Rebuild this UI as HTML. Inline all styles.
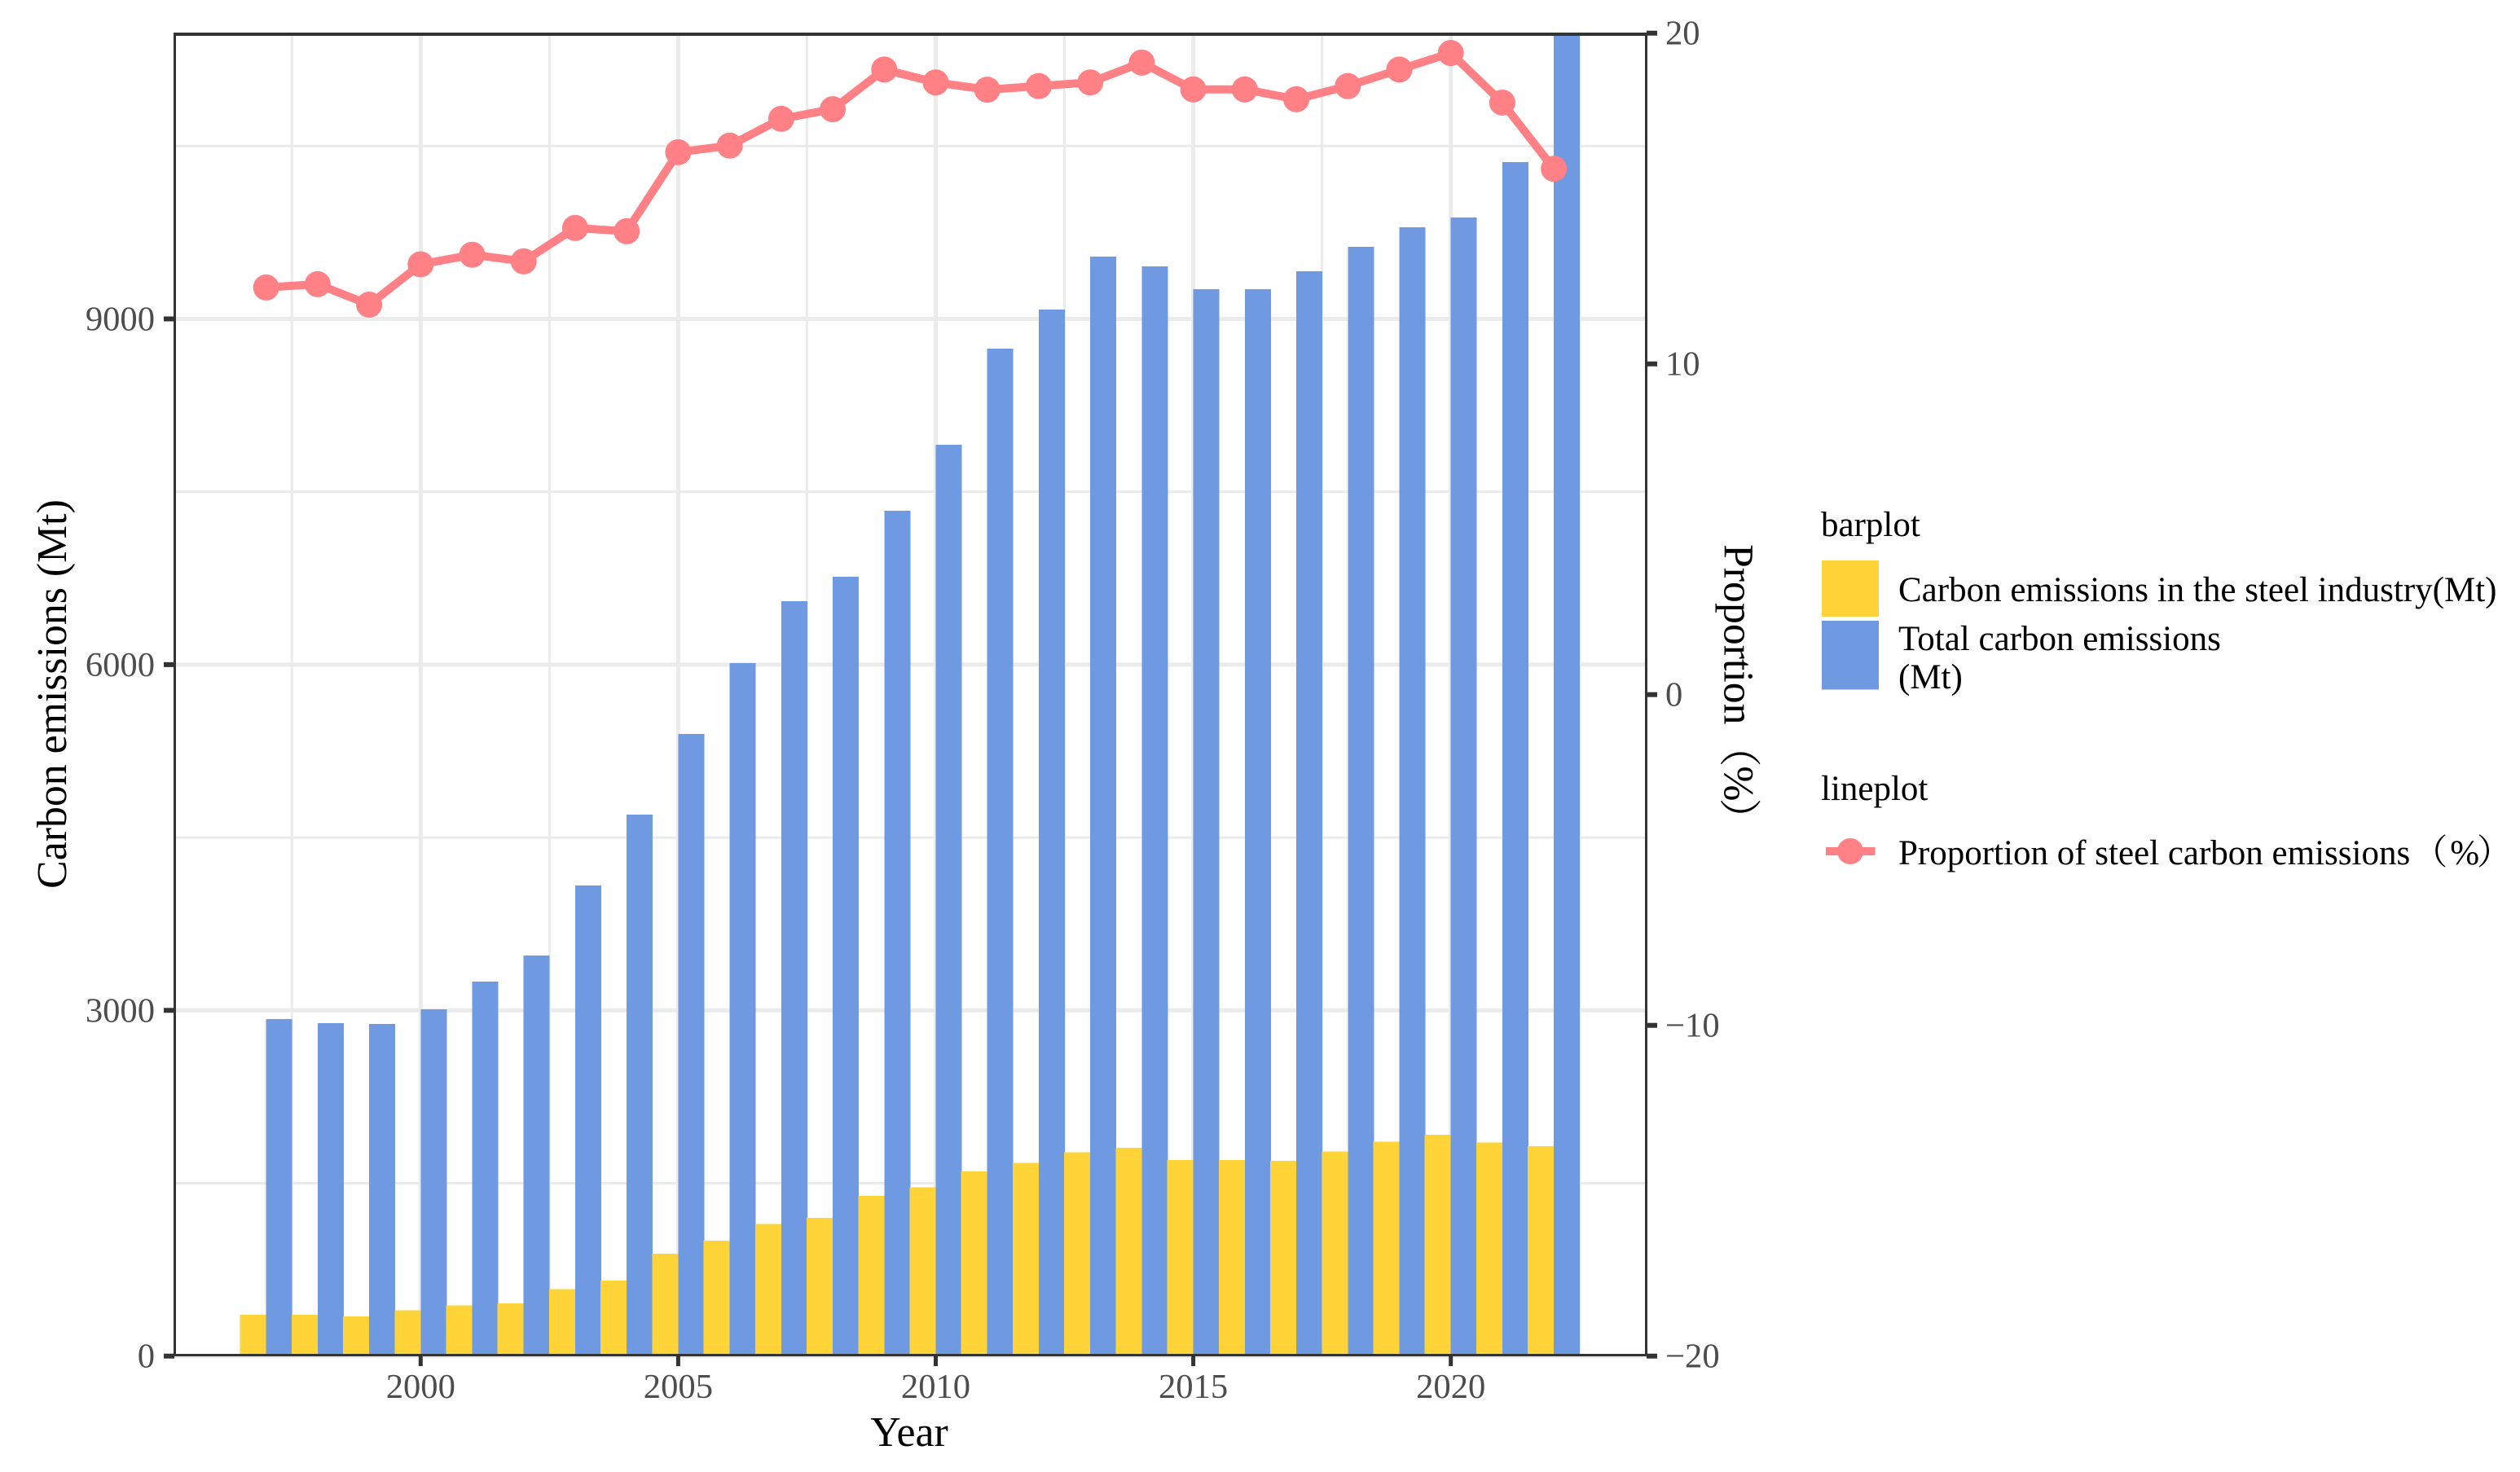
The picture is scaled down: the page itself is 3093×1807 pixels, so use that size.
<!DOCTYPE html>
<html lang="en">
<head>
<meta charset="utf-8">
<title>Carbon emissions chart</title>
<style>
html,body{margin:0;padding:0;background:#fff;}
svg{display:block;}
text{font-family:"Liberation Serif","Noto Serif CJK SC",serif;}
.tick{font-size:42.6px;fill:#4d4d4d;}
.title{font-size:51.8px;fill:#000;}
.legend{font-size:43px;fill:#000;}
</style>
</head>
<body>
<svg id="chart" xmlns="http://www.w3.org/2000/svg" width="3093" height="1807" viewBox="0 0 3093 1807">
  <defs><clipPath id="panel-clip"><rect x="215" y="42" width="1805.5" height="1621.5"/></clipPath></defs>
  <rect x="0" y="0" width="3093" height="1807" fill="#fff"/>
  <g id="grid"></g>
  <g id="bars" clip-path="url(#panel-clip)" shape-rendering="crispEdges"></g>
  <g id="line" clip-path="url(#panel-clip)"></g>
  <g fill="#333" shape-rendering="crispEdges">
    <rect x="213" y="40" width="3" height="1625"/>
    <rect x="2019" y="40" width="3" height="1625"/>
    <rect x="213" y="40" width="1809" height="4"/>
    <rect x="213" y="1662" width="1809" height="3"/>
  </g>
  <g id="axes"></g>

  <text class="title" x="1116" y="1775" text-anchor="middle">Year</text>
  <text class="title" transform="translate(81,852) rotate(-90)" text-anchor="middle">Carbon emissions (Mt)</text>
  <text class="title" transform="translate(2116.5,668) rotate(90)">Proportion<tspan>（</tspan><tspan dx="-1">%</tspan><tspan dx="-4">）</tspan></text>

  <g>
    <text class="legend" x="2235" y="658">barplot</text>
    <rect x="2236" y="688" width="70" height="69" fill="#FFD438"/>
    <text class="legend" x="2330" y="738">Carbon emissions in the steel industry(Mt)</text>
    <rect x="2236" y="762" width="70" height="84.5" fill="#6F9AE1"/>
    <text class="legend" x="2330" y="798">Total carbon emissions</text>
    <text class="legend" x="2330" y="845">(Mt)</text>
    <text class="legend" x="2235" y="982">lineplot</text>
    <line x1="2241" y1="1045" x2="2301.5" y2="1045" stroke="#FF8085" stroke-width="10"/>
    <circle cx="2271" cy="1045" r="16" fill="#FF8085"/>
    <text class="legend" x="2330" y="1061">Proportion of steel carbon emissions<tspan dx="3">（</tspan><tspan dx="3">%</tspan><tspan dx="-3">）</tspan></text>
  </g>
</svg>
<script>
const years = [1997,1998,1999,2000,2001,2002,2003,2004,2005,2006,2007,2008,2009,2010,2011,2012,2013,2014,2015,2016,2017,2018,2019,2020,2021,2022];
const steelEmissions = [360,360,346,396,438,459,580,657,890,1003,1145,1201,1392,1463,1604,1675,1767,1809,1703,1703,1696,1774,1859,1922,1852,1823];
const totalEmissions = [2924,2889,2882,3009,3249,3476,4084,4698,5398,6013,6551,6762,7335,7908,8742,9081,9541,9456,9258,9258,9413,9625,9795,9880,10360,11800];
const proportion = [12.31,12.41,11.79,13.01,13.30,13.10,14.11,14.01,16.40,16.60,17.41,17.70,18.90,18.51,18.29,18.40,18.51,19.11,18.30,18.30,18.00,18.40,18.90,19.40,17.90,15.90];
const xTicks = [2000,2005,2010,2015,2020];
const xMinorTicks = [1997.5,2002.5,2007.5,2012.5,2017.5,2022.5];
const leftTicks = [0,3000,6000,9000];
const leftMinorTicks = [1500,4500,7500,10500];
const rightTicks = [-20,-10,0,10,20];

const NS = 'http://www.w3.org/2000/svg';
const xScale = function (year) { return 516.3 + 63.22 * (year - 2000); };
const yLeft = function (v) { return 1664.7 - 0.14147 * v; };
const yRight = function (v) { return 1664.7 - 40.6 * (v + 20); };
const BAR_WIDTH = 32;
const gridGroup = document.getElementById('grid');
const barsGroup = document.getElementById('bars');
const lineGroup = document.getElementById('line');
const axesGroup = document.getElementById('axes');

function make(tag, attrs, parent) {
  const el = document.createElementNS(NS, tag);
  Object.keys(attrs).forEach(function (k) { el.setAttribute(k, attrs[k]); });
  parent.appendChild(el);
  return el;
}

leftMinorTicks.forEach(function (v) {
  const el = make('line', {x1: 215, x2: 2020.5, y1: yLeft(v), y2: yLeft(v), stroke: '#ebebeb', 'stroke-width': 3}, gridGroup);
  
  
});
leftTicks.forEach(function (v) {
  const el = make('line', {x1: 215, x2: 2020.5, y1: yLeft(v), y2: yLeft(v), stroke: '#ebebeb', 'stroke-width': 5}, gridGroup);
  
  
});
xMinorTicks.forEach(function (v) {
  const el = make('line', {x1: xScale(v), x2: xScale(v), y1: 42, y2: 1663.5, stroke: '#ebebeb', 'stroke-width': 3}, gridGroup);
  
  
});
xTicks.forEach(function (v) {
  const el = make('line', {x1: xScale(v), x2: xScale(v), y1: 42, y2: 1663.5, stroke: '#ebebeb', 'stroke-width': 5}, gridGroup);
  
  
});

years.forEach(function (year, i) {
  const x = xScale(year);
  const steelTop = yLeft(steelEmissions[i]);
  const steelBar = make('rect', {x: x - BAR_WIDTH, y: steelTop, width: BAR_WIDTH, height: yLeft(0) - steelTop, fill: '#FFD438'}, barsGroup);
  
  
  const totalTop = yLeft(totalEmissions[i]);
  const totalBar = make('rect', {x: x, y: totalTop, width: BAR_WIDTH, height: yLeft(0) - totalTop, fill: '#6F9AE1'}, barsGroup);
  
  
});

const linePoints = years.map(function (year, i) { return xScale(year) + ',' + yRight(proportion[i]); }).join(' ');
const polyline = make('polyline', {points: linePoints, fill: 'none', stroke: '#FF8085', 'stroke-width': 10, 'stroke-linejoin': 'round'}, lineGroup);


years.forEach(function (year, i) {
  const dot = make('circle', {cx: xScale(year), cy: yRight(proportion[i]), r: 16, fill: '#FF8085'}, lineGroup);
  
  
});

xTicks.forEach(function (v) {
  const mark = make('line', {x1: xScale(v), x2: xScale(v), y1: 1664, y2: 1677, stroke: '#333', 'stroke-width': 5}, axesGroup);
  
  
  const label = make('text', {x: xScale(v), y: 1716, 'text-anchor': 'middle', class: 'tick'}, axesGroup);
  
  
  label.textContent = String(v);
});
leftTicks.forEach(function (v) {
  const mark = make('line', {x1: 201, x2: 214, y1: yLeft(v), y2: yLeft(v), stroke: '#333', 'stroke-width': 6}, axesGroup);
  
  
  const label = make('text', {x: 190, y: yLeft(v) + 14, 'text-anchor': 'end', class: 'tick'}, axesGroup);
  
  
  label.textContent = String(v);
});
rightTicks.forEach(function (v) {
  const mark = make('line', {x1: 2021, x2: 2034, y1: yRight(v), y2: yRight(v), stroke: '#333', 'stroke-width': 6}, axesGroup);
  
  
  const label = make('text', {x: 2044, y: yRight(v) + 14, 'text-anchor': 'start', class: 'tick'}, axesGroup);
  
  
  label.textContent = String(v).replace('-', '\u2212');
});
</script>
</body>
</html>
